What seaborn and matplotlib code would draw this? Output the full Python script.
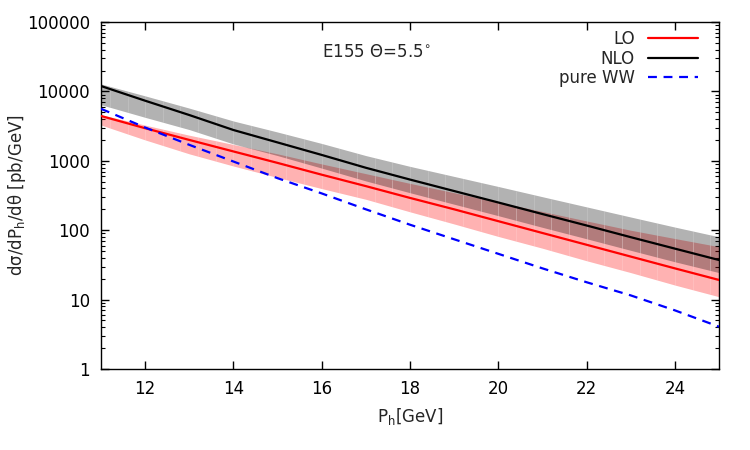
import numpy as np
import pandas as pd
import matplotlib
matplotlib.use("Agg")
import matplotlib.pyplot as plt
import seaborn as sns
from matplotlib.ticker import LogLocator, FixedLocator, NullFormatter
from matplotlib.lines import Line2D

# ---- data ----
p_h = [11, 12, 13, 14, 15, 16, 17, 18, 19, 20, 21, 22, 23, 24, 25]
lo = [4430, 2950, 2000, 1365, 933, 631, 432, 292, 200, 135, 91.2, 61.7, 41.7, 28.2, 19.2]
lo_hi = [4630, 3270, 2340, 1720, 1260, 902, 653, 473, 347, 254, 186, 136, 100, 75.9, 57.9]
lo_lo = [3280, 2000, 1260, 841, 575, 398, 279, 184, 123, 81.3, 55.0, 36.3, 24.5, 16.2, 11.0]
nlo = [11970, 7350, 4570, 2780, 1840, 1216, 794, 537, 367, 251, 171, 117, 79.4, 54.3, 37.2]
nlo_hi = [12820, 8630, 5750, 3750, 2600, 1780, 1190, 832, 596, 427, 304, 217, 155, 111, 80.4]
nlo_lo = [6430, 4230, 2820, 1750, 1190, 785, 513, 347, 237, 162, 110, 75.3, 51.3, 35.1, 24.5]
pure_ww = [5620, 3020, 1700, 977, 562, 339, 200, 120, 74, 45.7, 28.2, 17.8, 11.5, 7.0, 4.07]

xticks = [12, 14, 16, 18, 20, 22, 24]
yticks = [1, 10, 100, 1000, 10000, 100000]
ytick_labels = ["1", "10", "100", "1000", "10000", "100000"]

df = pd.DataFrame({
    "P": p_h * 3,
    "val": lo + nlo + pure_ww,
    "curve": ["LO"] * len(p_h) + ["NLO"] * len(p_h) + ["pure WW"] * len(p_h),
})

sns.set_theme(style="ticks")
plt.rcParams["font.family"] = ["DejaVu Sans"]

fig = plt.figure(figsize=(7.5, 4.5), dpi=100)
ax = fig.add_axes([0.1347, 0.18, 0.824, 0.771])

# bands
ax.fill_between(p_h, lo_lo, lo_hi, color=(1.0, 0.0, 0.0), alpha=0.3, linewidth=0, zorder=1)
ax.fill_between(p_h, nlo_lo, nlo_hi, color=(0.0, 0.0, 0.0), alpha=0.3, linewidth=0, zorder=2)

# faint seams inside the bands (gnuplot polygon joins)
seam_x = np.arange(11.2, 25.0, 0.4)
for lo_arr, hi_arr in ((lo_lo, lo_hi), (nlo_lo, nlo_hi)):
    b = 10 ** np.interp(seam_x, p_h, np.log10(lo_arr))
    t = 10 ** np.interp(seam_x, p_h, np.log10(hi_arr))
    ax.vlines(seam_x, b, t, colors="white", linewidth=0.6, alpha=0.18, zorder=3)

palette = {"LO": "#ff0000", "NLO": "#000000", "pure WW": "#0000ff"}
sns.lineplot(data=df, x="P", y="val", hue="curve", style="curve",
             palette=palette,
             dashes={"LO": "", "NLO": "", "pure WW": (4, 3)},
             linewidth=1.6, ax=ax, legend=False, zorder=4)

ax.set_yscale("log")
ax.set_xlim(11, 25)
ax.set_ylim(1, 100000)

ax.xaxis.set_major_locator(FixedLocator(xticks))
ax.set_xticklabels([str(t) for t in xticks])
ax.yaxis.set_major_locator(FixedLocator(yticks))
ax.set_yticklabels(ytick_labels)
ax.yaxis.set_minor_locator(LogLocator(base=10, subs=np.arange(2, 10)))
ax.yaxis.set_minor_formatter(NullFormatter())

ax.tick_params(axis="both", which="both", direction="in", top=True, right=True,
               labelsize=12, color="black", labelcolor="black")
ax.tick_params(axis="both", which="major", length=6, width=1, pad=8)
ax.tick_params(axis="y", which="minor", length=3, width=0.8)
for s in ax.spines.values():
    s.set_color("black")
    s.set_linewidth(1.0)

ax.set_xlabel("P$_\\mathregular{h}$[GeV]", fontsize=12, labelpad=6)
ax.set_ylabel("dσ/dP$_\\mathregular{h}$/dθ [pb/GeV]", fontsize=12)
ax.yaxis.set_label_coords(-0.118, 0.5)

ax.text(0.445, 0.913, "E155 Θ=5.5$^{\\circ}$", transform=ax.transAxes,
        ha="center", va="center", fontsize=12)

handles = [Line2D([], [], color="#ff0000", lw=1.6),
           Line2D([], [], color="#000000", lw=1.6),
           Line2D([], [], color="#0000ff", lw=1.6, dashes=(4, 3))]
leg = ax.legend(handles, ["LO", "NLO", "pure WW"], loc="upper right",
                markerfirst=False, frameon=False, fontsize=12,
                handlelength=3.0, handletextpad=0.8, labelspacing=0.08,
                borderaxespad=0.3, bbox_to_anchor=(0.985, 1.01))
for t in leg.get_texts():
    t.set_ha("right")

fig.savefig("out.png", dpi=100)
